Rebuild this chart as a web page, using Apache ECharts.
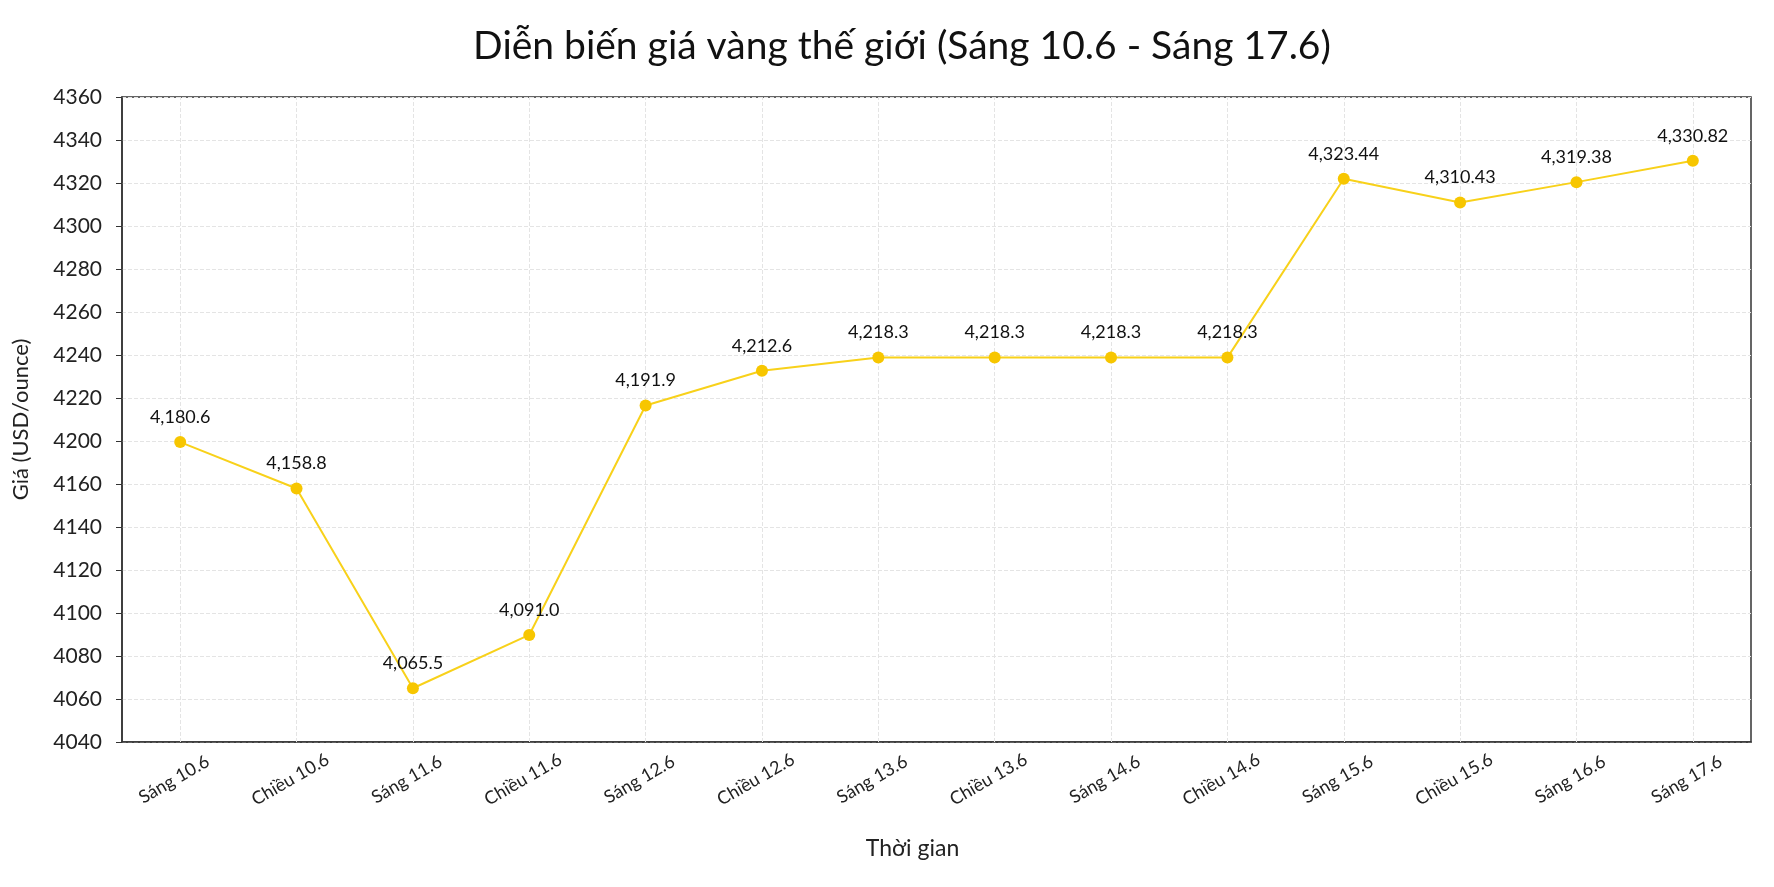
<!DOCTYPE html>
<html>
<head>
<meta charset="utf-8">
<script src="https://cdn.jsdelivr.net/npm/echarts@6/dist/echarts.min.js"></script>
<style>
html,body{margin:0;padding:0;background:#fff;}
#main{width:1774px;height:887px;}
</style>
</head>
<body>
<div id="main"></div>
<script>
// các mốc thời gian
var categories = ['Sáng 10.6','Chiều 10.6','Sáng 11.6','Chiều 11.6','Sáng 12.6','Chiều 12.6','Sáng 13.6',
	'Chiều 13.6','Sáng 14.6','Chiều 14.6','Sáng 15.6','Chiều 15.6','Sáng 16.6','Sáng 17.6'];
// vị trí điểm (theo trục)
var values = [4179.5, 4157.9, 4065.0, 4089.8, 4196.5, 4212.7, 4218.8, 4218.8, 4218.8, 4218.8,
	4302.0, 4290.9, 4300.4, 4310.3];
// nhãn hiển thị trên điểm
var pointLabels = ['4,180.6','4,158.8','4,065.5','4,091.0','4,191.9','4,212.6','4,218.3','4,218.3',
	'4,218.3','4,218.3','4,323.44','4,310.43','4,319.38','4,330.82'];
// nhãn trục tung
var yTickLabels = ['4040','4060','4080','4100','4120','4140','4160','4200','4220','4240','4260',
	'4280','4300','4320','4340','4360'];

var font = 'Lato';
var gridColor = '#e4e4e4';

// đường lưới dọc tại từng mốc
var vLines = [];
for(var i=0;i<categories.length;i++){
	vLines.push({xAxis: i});
}

var myChart = echarts.init(document.getElementById('main'));
var option = {
	backgroundColor: '#fff',
	textStyle: {fontFamily: font},
	title: {
		text: 'Diễn biến giá vàng thế giới (Sáng 10.6 - Sáng 17.6)',
		left: 897,
		textAlign: 'center',
		top: 22,
		textStyle: {fontFamily: font, fontSize: 39, fontWeight: 'normal', color: '#111'}
	},
	grid: {
		left: 122, right: 23, top: 97, bottom: 145,
		show: true, borderColor: '#333', borderWidth: 1.5
	},
	xAxis: {
		type: 'category',
		data: categories,
		boundaryGap: true,
		name: 'Thời gian',
		nameLocation: 'middle',
		nameGap: 95,
		nameTextStyle: {fontSize: 23, color: '#222', padding: [0, 48, 0, 0]},
		axisLine: {lineStyle: {color: '#333', width: 1.5}},
		axisTick: {alignWithLabel: true, length: 6, lineStyle: {color: '#333'}},
		axisLabel: {
			rotate: 30, fontSize: 18, color: '#222', margin: 34,
			align: 'center', verticalAlign: 'middle',
			formatter: function(v){ return '{a|' + v + '}'; },
			rich: {a: {fontSize: 18, color: '#222', padding: [0, 14, 0, 0]}}
		},
		splitLine: {show: false}
	},
	yAxis: {
		type: 'value',
		min: 4040,
		max: 4340,
		interval: 20,
		name: 'Giá (USD/ounce)',
		nameLocation: 'middle',
		nameGap: 90,
		nameTextStyle: {fontSize: 22, color: '#222'},
		axisLine: {show: true, lineStyle: {color: '#333', width: 1.5}},
		axisTick: {show: true, length: 6, lineStyle: {color: '#333'}},
		axisLabel: {
			fontSize: 21, color: '#222', margin: 20,
			formatter: function(v){
				return yTickLabels[Math.round((v - 4040) / 20)];
			}
		},
		splitLine: {show: true, lineStyle: {color: gridColor, type: 'dashed'}}
	},
	series: [{
		type: 'line',
		data: values,
		symbol: 'circle',
		symbolSize: 12,
		z: 3,
		lineStyle: {color: '#F8D11A', width: 2},
		itemStyle: {color: '#F7C600'},
		label: {
			show: true,
			position: 'top',
			distance: 10,
			fontSize: 18,
			color: '#111',
			formatter: function(p){ return pointLabels[p.dataIndex]; }
		},
		markLine: {
			silent: true,
			symbol: 'none',
			label: {show: false},
			lineStyle: {color: gridColor, type: 'dashed', width: 1},
			z: 1,
			data: vLines
		}
	}]
};
myChart.setOption(option);
</script>
</body>
</html>
